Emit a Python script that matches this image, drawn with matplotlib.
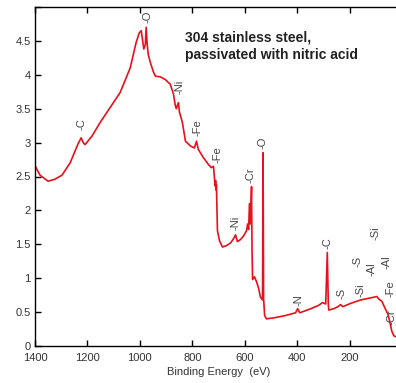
import matplotlib
matplotlib.use("Agg")
import matplotlib.pyplot as plt

plt.rcParams['font.family'] = ['Liberation Sans', 'DejaVu Sans']

# ---- survey spectrum ----
binding_energy = [1400, 1381, 1350, 1324, 1297, 1266, 1236, 1224, 1216, 1209, 1182, 1151,
                  1113, 1075, 1037, 1014, 1002, 995, 991, 985, 979, 976, 972, 968, 960,
                  949, 941, 922, 903, 884, 872, 865, 861, 853, 849, 838, 826, 807, 792,
                  784, 777, 758, 739, 727, 719, 715, 713, 711, 709, 708, 704, 696, 685,
                  670, 654, 643, 635, 628, 616, 605, 593, 589, 585, 582, 578, 574, 572,
                  570, 563, 555, 547, 540, 532, 530, 528, 524, 517, 482, 444, 406, 398,
                  390, 348, 318, 303, 291, 285, 281, 279, 260, 245, 234, 226, 195, 157,
                  119, 96, 88, 77, 65, 54, 46, 39, 31, 20, 4]
intensity = [2.66, 2.52, 2.43, 2.46, 2.52, 2.70, 2.98, 3.07, 3.00, 2.97, 3.10, 3.30,
             3.52, 3.74, 4.10, 4.48, 4.62, 4.65, 4.55, 4.38, 4.45, 4.70, 4.45, 4.30, 4.18,
             4.05, 3.98, 3.97, 3.93, 3.86, 3.72, 3.55, 3.50, 3.59, 3.45, 3.30, 3.02, 2.95, 2.92,
             3.02, 2.90, 2.78, 2.68, 2.63, 2.65, 2.45, 2.36, 2.44, 2.30, 2.38, 1.70, 1.55, 1.46,
             1.48, 1.52, 1.58, 1.64, 1.54, 1.57, 1.62, 1.70, 1.80, 1.72, 2.10, 1.80, 2.35, 1.40,
             0.98, 1.02, 0.95, 0.85, 0.72, 0.68, 2.85, 0.70, 0.45, 0.40, 0.42, 0.45, 0.49, 0.55,
             0.49, 0.55, 0.60, 0.64, 0.62, 1.38, 0.60, 0.53, 0.55, 0.58, 0.61, 0.58, 0.63, 0.68,
             0.71, 0.73, 0.69, 0.66, 0.56, 0.47, 0.35, 0.22, 0.15, 0.13, 0.12]

# peak labels: text, energy, height of label centre
peak_names = ['-C', '-O', '-Ni', '-Fe', '-Fe', '-Ni', '-Cr', '-O', '-N', '-C',
              '-S', '-Si', '-S', '-Al', '-Si', '-Al', '-Fe', '-Cr']
peak_energy = [1224, 972, 849, 781, 704, 635, 578, 532, 394, 283,
               230, 157, 170, 115, 100, 58, 42, 40]
peak_height = [3.27, 4.85, 3.82, 3.22, 2.82, 1.82, 2.52, 3.00, 0.68, 1.52,
               0.78, 0.83, 1.25, 1.14, 1.67, 1.24, 0.84, 0.42]

title_text = "304 stainless steel,\npassivated with nitric acid"

fig = plt.figure(figsize=(3.96, 3.83), dpi=100)
ax = fig.add_axes([35 / 396, 37 / 383, 367 / 396, 339 / 383])

ax.plot(binding_energy, intensity, color='#e8101a', linewidth=1.2)

for name, e, h in zip(peak_names, peak_energy, peak_height):
    ax.text(e, h, name, rotation=90, ha='center', va='center',
            fontsize=8, color='#444444')

ax.text(0.41, 0.93, title_text, transform=ax.transAxes, ha='left', va='top',
        fontsize=10, fontweight='bold', color='#222222', linespacing=1.3)

ax.set_xlim(1400, 0)
ax.set_ylim(0, 5)
ax.set_xticks([1400, 1200, 1000, 800, 600, 400, 200])
ax.set_yticks([0, 0.5, 1, 1.5, 2, 2.5, 3, 3.5, 4, 4.5, 5])
# the "5" at the very top is cut off in the original, leave it blank
ax.set_yticklabels(['0', '0.5', '1', '1.5', '2', '2.5', '3', '3.5', '4', '4.5', ''])
ax.tick_params(direction='in', length=4, width=1, top=True, right=False,
               labelsize=8, colors='black', labelcolor='#333333')
ax.tick_params(axis='x', pad=5)
ax.tick_params(axis='y', pad=3)
for s in ax.spines.values():
    s.set_linewidth(1)
ax.set_xlabel('Binding Energy  (eV)', fontsize=8, color='#333333', labelpad=3)

fig.savefig('out.png', dpi=100)
